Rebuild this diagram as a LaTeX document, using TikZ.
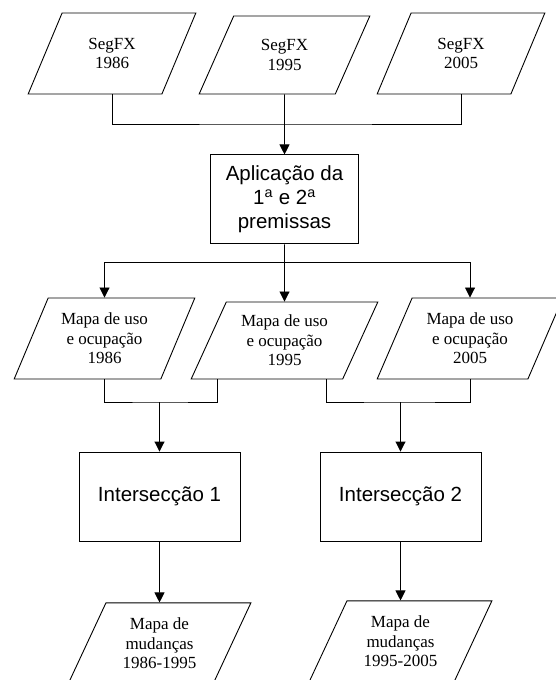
\documentclass[tikz,border=0pt]{standalone}
\usepackage{fontspec}
\setmainfont{Liberation Serif}
\setsansfont{Liberation Sans}
\usetikzlibrary{shapes.geometric,arrows.meta,positioning,calc}

\begin{document}
\begin{tikzpicture}[
  x=1pt,y=1pt,
  line width=0.9pt,
  >={Triangle[width=10pt,length=10pt]},
  io/.style={trapezium,trapezium left angle=63.5,trapezium right angle=116.5,trapezium stretches=true,draw,align=center,minimum width=183pt,minimum height=81pt,inner sep=2pt,font=\fontsize{17}{19.5}\selectfont},
  block/.style={rectangle,draw,align=center,minimum width=161pt,minimum height=89pt,font=\sffamily\fontsize{20.5}{24}\selectfont},
  arrow/.style={->}
]
\useasboundingbox (0,0) rectangle (556,-680);
\clip (0,0) rectangle (556,-680);
\node[io,minimum width=168pt] (seg86) at (112,-53.5) {SegFX\\1986};
\node[io,minimum width=171pt,minimum height=78pt] (seg95) at (284.5,-55) {SegFX\\1995};
\node[io,minimum width=168pt] (seg05) at (461,-53.5) {SegFX\\2005};
\node[block,minimum width=148pt,below=60pt of seg95] (prem) {Aplicação da\\1\textsuperscript{a} e 2\textsuperscript{a}\\premissas};
\node[io,minimum width=181pt] (uso86) at (104.5,-338.5) {Mapa de uso\\e ocupação\\1986};
\node[io,minimum width=187pt,minimum height=77pt] (uso95) at (284.5,-340.5) {Mapa de uso\\e ocupação\\1995};
\node[io,minimum width=186pt] (uso05) at (470,-338.5) {Mapa de uso\\e ocupação\\2005};
\node[block] (inter1) at (159.5,-496.5) {Intersecção 1};
\node[block] (inter2) at (400.5,-496.5) {Intersecção 2};
\node[io,below=61pt of inter1] (mud1) {Mapa de\\mudanças\\1986-1995};
\node[io,below=59pt of inter2] (mud2) {Mapa de\\mudanças\\1995-2005};
\coordinate (j1) at (284.5,-124);
\coordinate (j2) at (284.5,-262);
\coordinate (j3) at (159.5,-402);
\coordinate (j4) at (400.5,-402);
\coordinate (u95a) at ($(uso95.bottom left corner)!0.175!(uso95.bottom right corner)$);
\coordinate (u95b) at ($(uso95.bottom left corner)!0.89!(uso95.bottom right corner)$);
\draw (seg86.south) |- (j1) -| (seg05.south);
\draw[arrow] (seg95) -- (prem);
\draw[arrow] (prem) -- (uso95);
\draw[arrow] (j2) -| (uso86.north);
\draw[arrow] (j2) -| (uso05.north);
\draw (uso86.south) |- (j3) -| (u95a);
\draw (u95b) |- (j4) -| (uso05.south);
\draw[arrow] (j3) -- (inter1);
\draw[arrow] (j4) -- (inter2);
\draw[arrow] (inter1) -- (mud1);
\draw[arrow] (inter2) -- (mud2);
\end{tikzpicture}
\end{document}
